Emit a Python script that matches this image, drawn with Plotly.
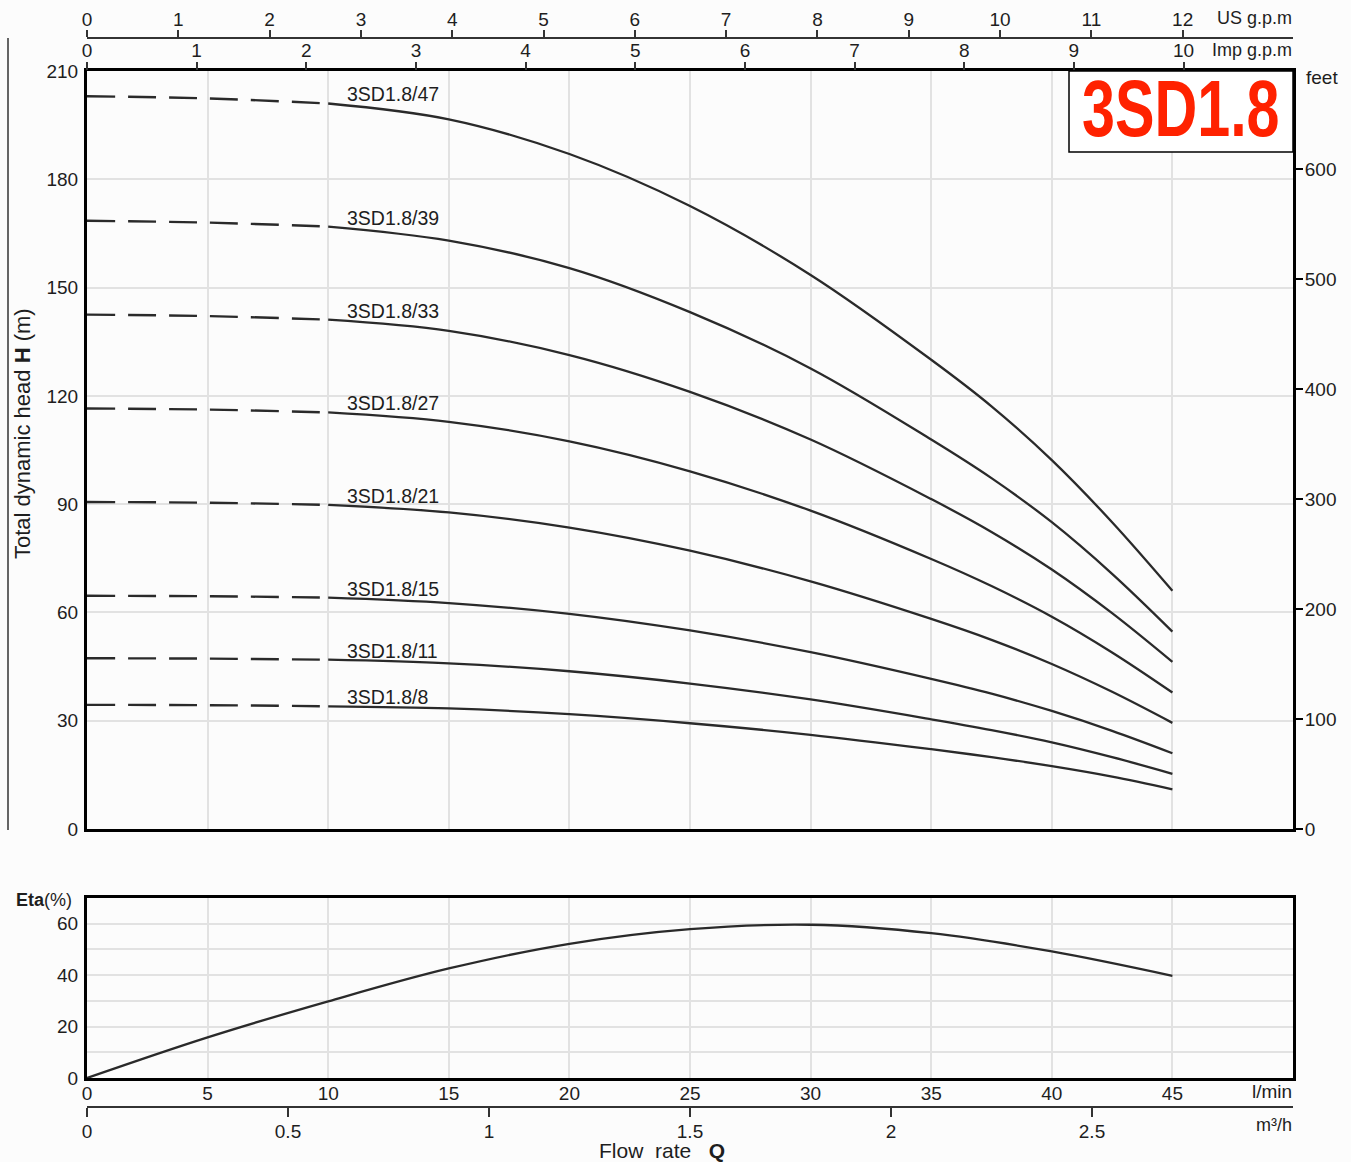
import plotly.graph_objects as go

W, H = 1351, 1162

# ---------------- data ----------------
flow_lmin = [0, 5, 10, 15, 20, 25, 30, 35, 37.5, 40, 42.5, 45]

curve_names = ["3SD1.8/47", "3SD1.8/39", "3SD1.8/33", "3SD1.8/27",
               "3SD1.8/21", "3SD1.8/15", "3SD1.8/11", "3SD1.8/8"]
head_47 = [203.0, 202.4, 201.0, 196.6, 187.0, 172.6, 153.5, 130.0, 117.1, 102.2, 85.0, 66.0]
head_39 = [168.5, 168.0, 166.9, 163.0, 155.4, 143.2, 127.6, 107.9, 97.2, 85.0, 70.7, 54.7]
head_33 = [142.5, 142.1, 141.1, 138.0, 131.3, 121.1, 107.9, 91.4, 82.3, 71.9, 59.8, 46.3]
head_27 = [116.5, 116.2, 115.4, 112.8, 107.4, 99.1, 88.2, 74.8, 67.3, 58.8, 48.9, 37.8]
head_21 = [90.6, 90.4, 89.8, 87.7, 83.5, 77.1, 68.6, 58.2, 52.4, 45.7, 38.0, 29.4]
head_15 = [64.6, 64.5, 64.1, 62.6, 59.6, 55.0, 49.0, 41.6, 37.5, 32.7, 27.2, 21.0]
head_11 = [47.3, 47.2, 46.9, 45.9, 43.7, 40.3, 35.9, 30.4, 27.4, 24.0, 19.9, 15.3]
head_8 = [34.4, 34.3, 34.0, 33.4, 31.8, 29.3, 26.1, 22.1, 19.9, 17.4, 14.5, 11.0]
heads = [head_47, head_39, head_33, head_27, head_21, head_15, head_11, head_8]

eta_flow = [0, 5, 10, 15, 20, 25, 30, 35, 40, 45]
eta_pct = [0, 15.8, 29.8, 42.6, 52.2, 57.9, 59.6, 56.3, 49.2, 39.7]

dash_end_q = 10          # dashed portion ends here
label_q = 10.7           # curve label left position (l/min)

h_ticks = [0, 30, 60, 90, 120, 150, 180, 210]
feet_ticks = [0, 100, 200, 300, 400, 500, 600]
lmin_ticks = [0, 5, 10, 15, 20, 25, 30, 35, 40, 45]
m3h_ticks = [0, 0.5, 1, 1.5, 2, 2.5]
m3h_labels = ["0", "0.5", "1", "1.5", "2", "2.5"]
us_gpm_ticks = list(range(0, 13))
imp_gpm_ticks = list(range(0, 11))
eta_ticks = [0, 10, 20, 30, 40, 50, 60, 70]
eta_labels = ["0", "", "20", "", "40", "", "60", ""]

Q_MAX = 50.0
H_MAX = 210.0
M_TO_FT = 3.28084
L_PER_USGAL = 3.78541
L_PER_IMPGAL = 4.54609

# ---------------- layout helpers ----------------
def px(xp):
    return xp / W

def py(yp):
    return 1 - yp / H

FONT = "Liberation Sans, Arial, Helvetica, sans-serif"
TXT = "#1e1e1e"
CURVE = "#2a2a2a"
GRID = "#e2e2e2"
BG = "#fcfcfc"
TS = 19

fig = go.Figure()

# pump curves
for name, h in zip(curve_names, heads):
    i_end = flow_lmin.index(dash_end_q)
    fig.add_trace(go.Scatter(
        x=flow_lmin[:i_end + 1], y=h[:i_end + 1], mode="lines",
        line=dict(color=CURVE, width=2.4, dash="28px,13px", shape="spline"),
        xaxis="x", yaxis="y", showlegend=False, hoverinfo="skip"))
    fig.add_trace(go.Scatter(
        x=flow_lmin[i_end:], y=h[i_end:], mode="lines",
        line=dict(color=CURVE, width=2.3, shape="spline", smoothing=1.0),
        xaxis="x", yaxis="y", showlegend=False, name=name))

# efficiency curve
fig.add_trace(go.Scatter(
    x=eta_flow, y=eta_pct, mode="lines",
    line=dict(color=CURVE, width=2.3, shape="spline", smoothing=1.0),
    xaxis="x2", yaxis="y3", showlegend=False, name="Eta"))

# invisible helpers so secondary axes are drawn
def ghost(xa, ya, xs, ys):
    fig.add_trace(go.Scatter(x=xs, y=ys, xaxis=xa, yaxis=ya, mode="markers",
                             marker=dict(opacity=0, size=1), showlegend=False,
                             hoverinfo="skip"))

ghost("x", "y2", [0], [0])
ghost("x3", "y", [0], [0])
ghost("x4", "y", [0], [0])
ghost("x5", "y3", [0], [0])

dom_x = [px(87), px(1293)]
frame = dict(showline=True, linecolor="black", linewidth=3, mirror=True, zeroline=False,
             automargin=False)
tickfont = dict(family=FONT, size=TS, color=TXT)

fig.update_layout(
    width=W, height=H, autosize=False,
    margin=dict(l=0, r=0, t=0, b=0, pad=0, autoexpand=False),
    showlegend=False,
    paper_bgcolor=BG, plot_bgcolor=BG,
    font=dict(family=FONT, color=TXT, size=TS),
    xaxis=dict(domain=dom_x, range=[0, Q_MAX], anchor="y", tickvals=lmin_ticks + [50],
               showticklabels=False, ticks="", showgrid=True, gridcolor=GRID, gridwidth=1.5,
               **frame),
    yaxis=dict(domain=[py(829), py(71)], range=[0, H_MAX], anchor="x", tickvals=h_ticks,
               ticks="", showgrid=True, gridcolor=GRID, gridwidth=1.5, tickfont=tickfont,
               ticklabelstandoff=2, **frame),
    yaxis2=dict(overlaying="y", side="right", anchor="x", range=[0, H_MAX * M_TO_FT],
                tickvals=feet_ticks, ticks="outside", ticklen=9, tickwidth=1.5,
                tickcolor="black", showgrid=False, showline=False, zeroline=False,
                tickfont=tickfont, automargin=False, ticklabelstandoff=-2),
    xaxis3=dict(overlaying="x", anchor="free", position=py(38), side="top",
                range=[0, Q_MAX / L_PER_USGAL], tickvals=us_gpm_ticks, ticks="outside",
                ticklen=7, tickwidth=1.5, tickcolor="#333", showline=True,
                linecolor="#333", linewidth=1.5, showgrid=False, zeroline=False,
                tickfont=tickfont, automargin=False, ticklabelstandoff=-3),
    xaxis4=dict(overlaying="x", anchor="y", side="top",
                range=[0, Q_MAX / L_PER_IMPGAL], tickvals=imp_gpm_ticks, ticks="outside",
                ticklen=8, tickwidth=1.5, tickcolor="#333", showline=False,
                showgrid=False, zeroline=False, tickfont=tickfont, automargin=False,
                ticklabelstandoff=-3),
    xaxis2=dict(domain=dom_x, range=[0, Q_MAX], anchor="y3", tickvals=lmin_ticks,
                ticks="", showgrid=True, gridcolor=GRID, gridwidth=1.5, tickfont=tickfont,
                ticklabelstandoff=-4, **frame),
    yaxis3=dict(domain=[py(1078), py(898)], range=[0, 70], anchor="x2", tickvals=eta_ticks,
                ticktext=eta_labels, ticks="", showgrid=True, gridcolor=GRID, gridwidth=1.5,
                tickfont=tickfont, ticklabelstandoff=2, **frame),
    xaxis5=dict(overlaying="x2", anchor="free", position=py(1107), side="bottom",
                range=[0, Q_MAX * 60 / 1000], tickvals=m3h_ticks, ticktext=m3h_labels,
                ticks="outside", ticklen=9, tickwidth=1.5, tickcolor="#333",
                showline=True, linecolor="#333", linewidth=1.5, showgrid=False,
                zeroline=False, tickfont=tickfont, automargin=False, ticklabelstandoff=-2),
)

# curve labels
for name, h in zip(curve_names, heads):
    fig.add_annotation(x=label_q, y=h[flow_lmin.index(dash_end_q)], xref="x", yref="y",
                       text=name, showarrow=False, xanchor="left", yanchor="middle",
                       yshift=9, font=dict(family=FONT, size=19.5, color=TXT))

def ptext(text, x, y, xanchor="center", yanchor="middle", size=TS, angle=0):
    fig.add_annotation(x=px(x), y=py(y), xref="paper", yref="paper", text=text,
                       showarrow=False, xanchor=xanchor, yanchor=yanchor,
                       textangle=angle, font=dict(family=FONT, size=size, color=TXT))

ptext("US g.p.m", 1294, 18, xanchor="right", size=18)
ptext("Imp g.p.m", 1294, 50, xanchor="right", size=18)
ptext("feet", 1304, 77, xanchor="left", size=19)
ptext("l/min", 1294, 1091, xanchor="right", size=19)
ptext("m³/h", 1294, 1125, xanchor="right", size=18)
ptext("<b>Eta</b>(%)", 44, 900, size=18)
ptext("Flow  rate   <b>Q</b>", 662, 1150, size=21)
ptext("Total dynamic head <b>H</b> (m)", 22, 434, size=22, angle=-90)

# title box
fig.add_shape(type="rect", xref="paper", yref="paper",
              x0=px(1069), x1=px(1293), y0=py(152), y1=py(71),
              fillcolor="white", line=dict(color="black", width=1.5), layer="above")
fig.add_annotation(x=px(1181), y=py(109), xref="paper", yref="paper",
                   text="<b>3SD1.8</b>", showarrow=False, xanchor="center", yanchor="middle",
                   font=dict(family="Liberation Sans, Arial, sans-serif",
                             size=79, color="#ff2200"))

# left decorative line
fig.add_shape(type="line", xref="paper", yref="paper",
              x0=px(8), x1=px(8), y0=py(38), y1=py(830),
              line=dict(color="#333", width=1.5))

# narrow the condensed title text horizontally (text stays real text)
post = """
var gd = document.getElementById('{plot_id}');
gd.querySelectorAll('text.annotation-text').forEach(function(t){
  if (t.textContent.trim() === '3SD1.8') {
    var bb = t.getBBox();
    var cx = bb.x + bb.width / 2;
    t.setAttribute('transform', 'translate(' + cx + ',0) scale(0.75,1) translate(' + (-cx) + ',0)');
  }
});
"""

fig.write_html("out.html", post_script=post)
